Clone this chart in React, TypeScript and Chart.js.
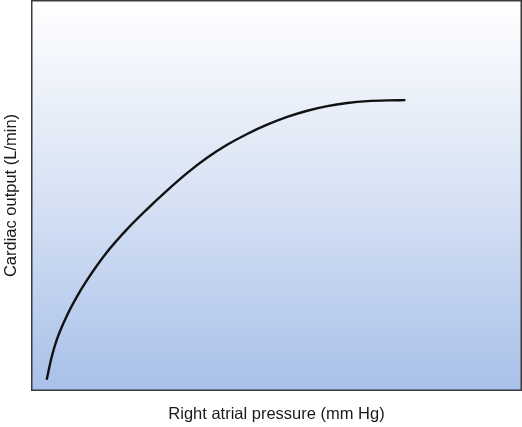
import React, { useEffect, useRef } from "react";
import { Chart, registerables } from "chart.js";

Chart.register(...registerables);

// Right atrial pressure (arbitrary units)
const pressure = [
  0.32, 0.371, 0.422, 0.524, 0.729, 0.933, 1.137, 1.545, 1.953, 2.361, 2.769, 3.178,
  3.586, 3.994, 4.402, 4.81, 5.218, 5.627, 6.035, 6.443, 6.851, 7.259, 7.626,
];
// Cardiac output (arbitrary units)
const cardiacOutput = [
  0.288, 0.594, 0.875, 1.309, 1.921, 2.406, 2.827, 3.548, 4.135, 4.648, 5.125, 5.571,
  5.964, 6.296, 6.574, 6.811, 7.01, 7.168, 7.286, 7.365, 7.413, 7.434, 7.439,
];

const xTitle = "Right atrial pressure (mm Hg)";
const yTitle = "Cardiac output (L/min)";

const FONT = "'Liberation Sans', Arial, Helvetica, sans-serif";

const backgroundPlugin = {
  id: "areaBackground",
  beforeDatasetsDraw(chart: any) {
    const { ctx, chartArea } = chart;
    const { left, top, right, bottom } = chartArea;
    ctx.save();
    const g = ctx.createLinearGradient(0, top, 0, bottom);
    g.addColorStop(0, "#ffffff");
    g.addColorStop(0.5, "#d7e2f4");
    g.addColorStop(1, "#a8c0e9");
    ctx.fillStyle = g;
    ctx.fillRect(left, top, right - left, bottom - top);
    ctx.strokeStyle = "#3a3a3a";
    ctx.lineWidth = 1.5;
    ctx.strokeRect(left + 0.75, top + 0.75, right - left - 1.5, bottom - top - 1.5);
    ctx.restore();
  },
};

export default function App() {
  const ref = useRef<HTMLCanvasElement | null>(null);
  useEffect(() => {
    if (!ref.current) return;
    const chart = new Chart(ref.current, {
      type: "line",
      data: {
        datasets: [
          {
            data: pressure.map((x, i) => ({ x, y: cardiacOutput[i] })),
            borderColor: "#111111",
            borderWidth: 2.4,
            pointRadius: 0,
            fill: false,
            cubicInterpolationMode: "monotone",
          },
        ],
      },
      options: {
        animation: false,
        responsive: true,
        maintainAspectRatio: false,
        layout: { padding: { left: 0, top: 0, right: 0, bottom: 1 } },
        plugins: { legend: { display: false }, tooltip: { enabled: false } },
        scales: {
          x: {
            type: "linear",
            min: 0,
            max: 10,
            grid: { display: false, drawTicks: false },
            border: { display: false },
            ticks: { display: false },
            title: {
              display: true,
              text: xTitle,
              color: "#1a1a1a",
              font: { family: FONT, size: 16.5 },
              padding: { top: 13.2, bottom: 2 },
            },
          },
          y: {
            type: "linear",
            min: 0,
            max: 10,
            grid: { display: false, drawTicks: false },
            border: { display: false },
            ticks: { display: false },
            title: {
              display: true,
              text: yTitle,
              color: "#1a1a1a",
              font: { family: FONT, size: 16.5 },
              padding: { top: 1.6, bottom: 9.6 },
            },
          },
        },
      },
      plugins: [backgroundPlugin],
    });
    return () => chart.destroy();
  }, []);
  return (
    <div style={{ position: "fixed", left: 0, top: 0, width: 522, height: 427, background: "#fff" }}>
      <canvas ref={ref} />
    </div>
  );
}
